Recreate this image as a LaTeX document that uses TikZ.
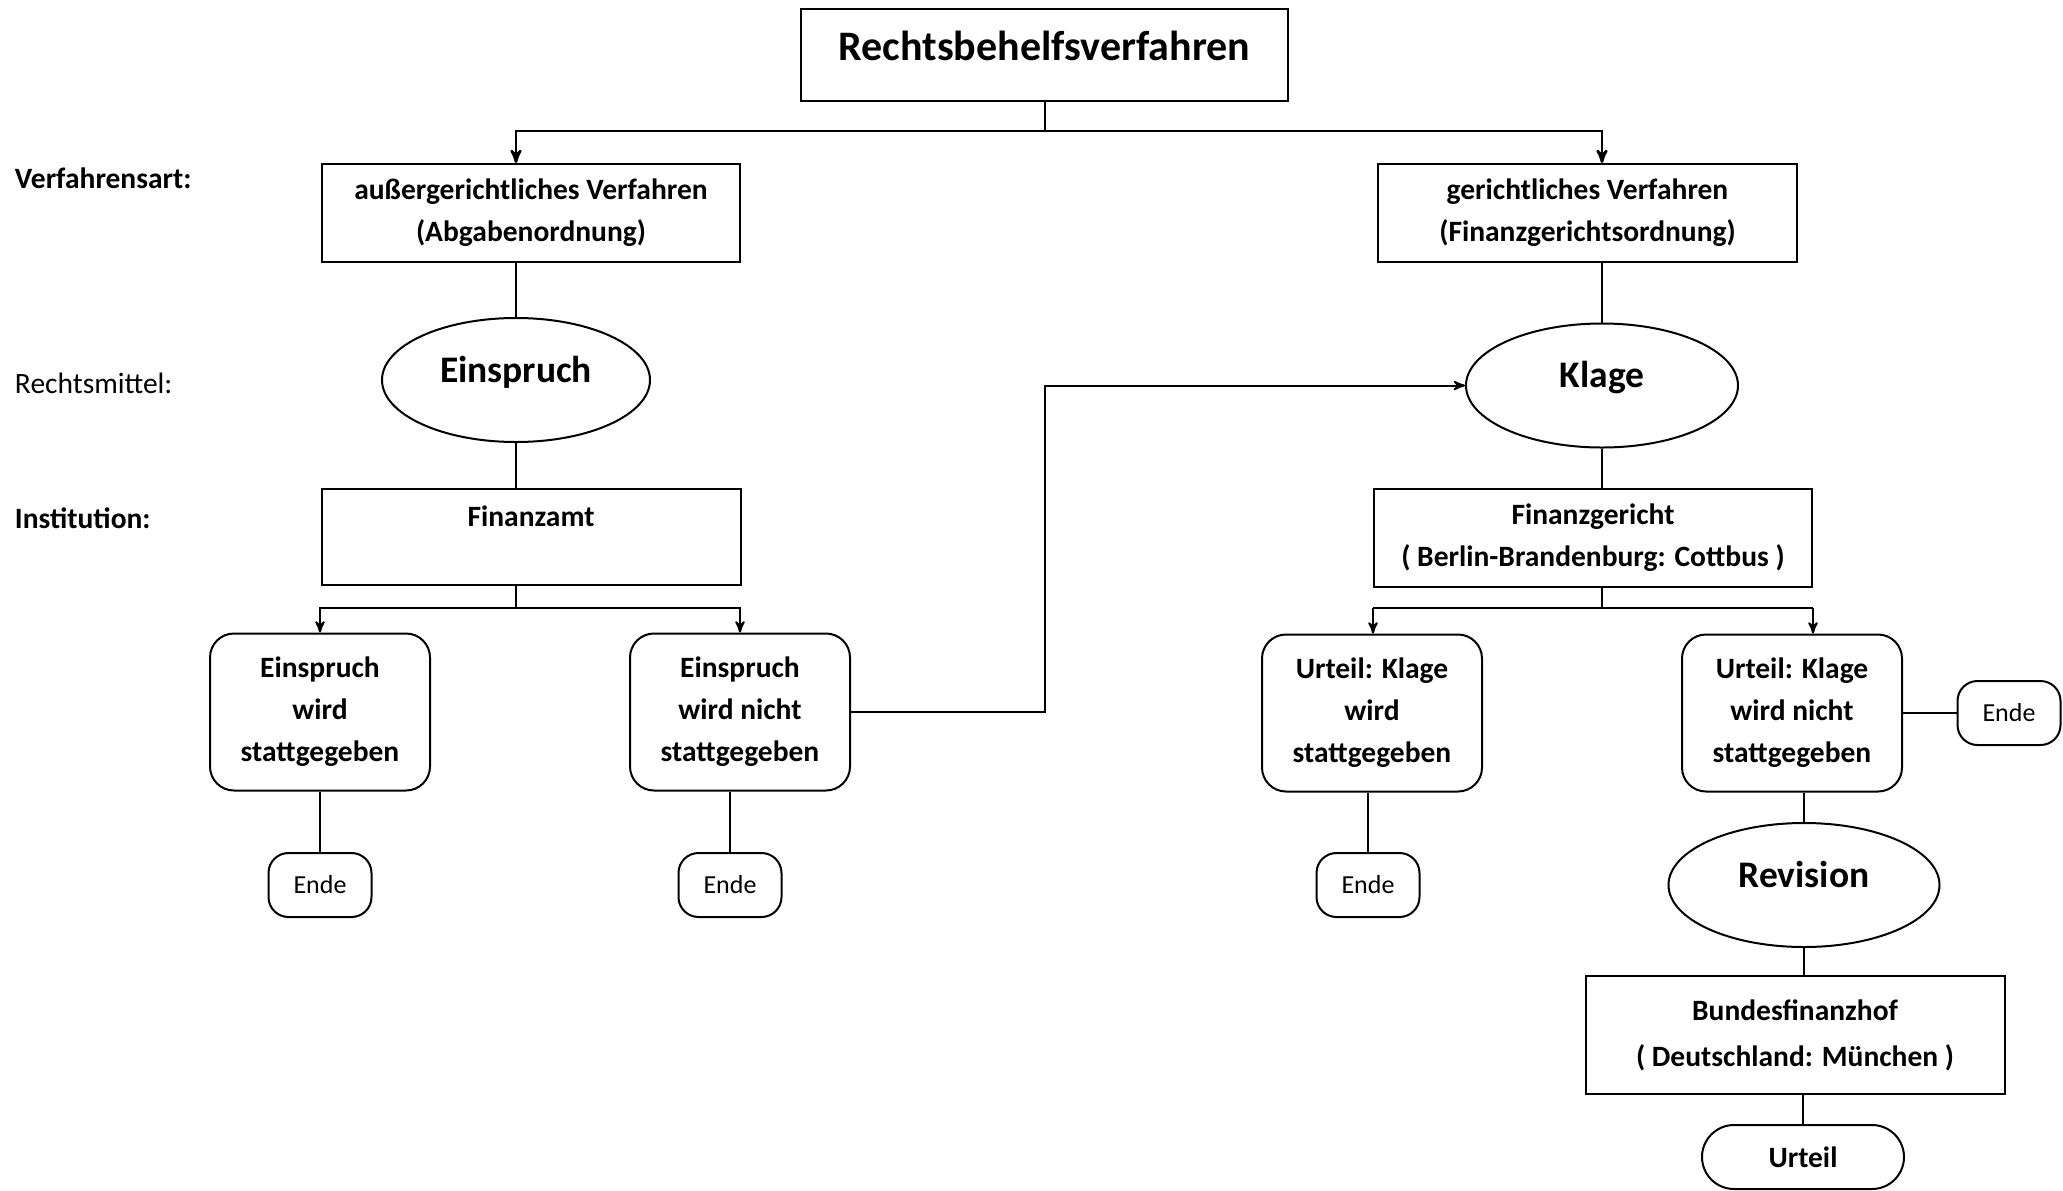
\documentclass[tikz,border=0pt]{standalone}
\usepackage{fontspec}
\setmainfont{Carlito}
\usepackage{tikz}
\usetikzlibrary{shapes,arrows,positioning}

\newcommand{\headfnt}{\fontsize{21}{25}\selectfont\bfseries}
\newcommand{\ovalfnt}{\fontsize{18.75}{22}\selectfont\bfseries}
\newcommand{\boxfnt}{\fontsize{14.75}{21}\selectfont\bfseries}
\newcommand{\schlussfnt}{\fontsize{13}{16}\selectfont}

\tikzstyle{box} = [draw, line width=1pt, inner sep=0pt, align=center, font=\boxfnt]
\tikzstyle{oval} = [draw, ellipse, line width=1pt, inner sep=0pt, minimum width=134pt, minimum height=62pt, font=\ovalfnt, text height=13pt, text depth=11pt]
\tikzstyle{result} = [box, rounded corners=12pt, minimum width=110pt, minimum height=78.5pt]
\tikzstyle{ende} = [draw, line width=1pt, inner sep=0pt, rounded corners=10pt, minimum width=51.5pt, minimum height=32pt, font=\schlussfnt]
\tikzstyle{lbl} = [anchor=west, inner sep=0pt, font=\boxfnt]

\begin{document}
\begin{tikzpicture}[>=stealth', on grid, line width=1pt]
\useasboundingbox (0,0) rectangle (1031.5pt,-595pt);

\node[box, minimum width=243.5pt, minimum height=46pt, font=\headfnt, text height=15pt, text depth=9.4pt] (title) at (522.25pt,-27.5pt) {Rechtsbehelfsverfahren};

% Verfahrensart
\node[box, minimum width=209pt, minimum height=49pt, below left=79pt and 256.75pt of title] (ag) {außergerichtliches Verfahren\\(Abgabenordnung)};
\node[box, minimum width=209.5pt, minimum height=49pt, below right=79pt and 271.5pt of title] (gv) {gerichtliches Verfahren\\(Finanzgerichtsordnung)};

% Rechtsmittel
\node[oval, below left=83.5pt and 7.5pt of ag] (ein) {Einspruch};
\node[oval, minimum width=136pt, below right=86.25pt and 7.25pt of gv] (kl) {Klage};

% Institution
\node[box, minimum width=209.5pt, minimum height=48pt, below right=78.5pt and 7.5pt of ein] (fa) {Finanzamt\\~};
\node[box, minimum width=219pt, minimum height=49pt, below left=76.25pt and 4.5pt of kl] (fg) {Finanzgericht\\( Berlin-Brandenburg: Cottbus )};

% Ergebnisse
\node[result, below left=87.5pt and 105.5pt of fa] (e1) {Einspruch\\wird\\stattgegeben};
\node[result, right=210pt of e1] (e2) {Einspruch\\wird nicht\\stattgegeben};
\node[result, below left=87.5pt and 110.5pt of fg] (u1) {Urteil: Klage\\wird\\stattgegeben};
\node[result, right=210pt of u1] (u2) {Urteil: Klage\\wird nicht\\stattgegeben};

\node[ende, below=86.5pt of e1] (end1) {Ende};
\node[ende, below left=86.5pt and 5pt of e2] (end2) {Ende};
\node[ende, below left=86pt and 2pt of u1] (end3) {Ende};
\node[ende, right=108.5pt of u2] (end4) {Ende};

% Revision
\node[oval, minimum width=135.5pt, below right=86pt and 6pt of u2] (rev) {Revision};
\node[box, minimum width=209.5pt, minimum height=59pt, below left=75pt and 4.5pt of rev] (bfh) {Bundesfinanzhof\\[2pt]( Deutschland: München )};
\node[box, rounded corners=16pt, minimum width=101pt, minimum height=32pt, below right=61pt and 4pt of bfh] (urt) {Urteil};

% Zeilen links
\node[lbl] (vart) at (7pt,-89pt) {Verfahrensart:};
\node[lbl, font=\boxfnt\mdseries] (rmit) at (7pt,-191.5pt) {Rechtsmittel:};
\node[lbl] (inst) at (7pt,-259pt) {Institution:};

% Verbindungen
\draw (title.south) -- ++(0,-14.5pt) coordinate (tsplit);
\draw[->, line width=1.3pt] (tsplit) -| (ein.north |- ag.north);
\draw[->, line width=1.3pt] (tsplit) -| (kl.north |- gv.north);
\draw (ag.south -| ein.north) -- (ein.north);
\draw (gv.south -| kl.north) -- (kl.north);
\draw (ein.south) -- (ein.south |- fa.north);
\draw (kl.south) -- (kl.south |- fg.north);

\draw (fa.south -| ein.south) -- ++(0,-11pt) coordinate (fasplit);
\draw[->] (fasplit) -| (e1.north);
\draw[->] (fasplit) -| (e2.north);
\draw (fg.south -| kl.south) -- ++(0,-10pt) coordinate (fgsplit);
\draw (fg.west |- fgsplit) -- (fg.east |- fgsplit);
\draw[->] (fg.west |- fgsplit) -- (u1.north -| fg.west);
\draw[->] (fg.east |- fgsplit) -- (u2.north -| fg.east);

\draw[->] (e2.east) -- (e2.east -| title.south) |- (kl.west);

\draw (e1) -- (end1);
\draw (end2.north) -- (end2.north |- e2.south);
\draw (end3.north) -- (end3.north |- u1.south);
\draw (u2) -- (end4);
\draw (rev.north) -- (rev.north |- u2.south);
\draw (rev.south) -- (rev.south |- bfh.north);
\draw (urt.north) -- (urt.north |- bfh.south);
\end{tikzpicture}
\end{document}
